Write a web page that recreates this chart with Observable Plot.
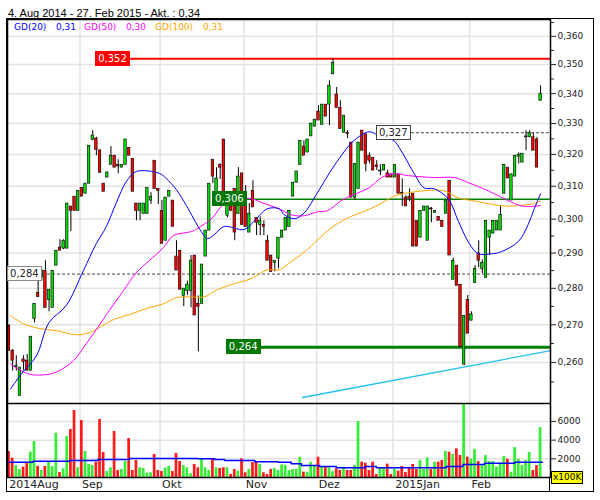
<!DOCTYPE html>
<html><head><meta charset="utf-8">
<script src="https://cdn.jsdelivr.net/npm/d3@7"></script>
<script src="https://cdn.jsdelivr.net/npm/@observablehq/plot@0.6"></script>
<style>
body{margin:0;background:#fff;}
#wrap{position:relative;width:600px;height:500px;font-family:"DejaVu Sans",sans-serif;overflow:hidden;}
#wrap > svg{position:absolute;left:0;}
.abs{position:absolute;white-space:nowrap;}
</style></head><body><div id="wrap"></div>
<script>
// ---------- data ----------
const titleText = "4. Aug 2014 - 27. Feb 2015 - Akt. : 0,34";
const monthLabels = ["2014Aug","Sep","Okt","Nov","Dez","2015Jan","Feb"];
const monthStartBar = [1,21,43,66,86,107,128];
const priceTicks = [0.26,0.27,0.28,0.29,0.30,0.31,0.32,0.33,0.34,0.35,0.36];
const priceMinorTicks = [0.255,0.265,0.275,0.285,0.295,0.305,0.315,0.325,0.335,0.345,0.355,0.365];
const volTicks = [2000,4000,6000];

const open = [.2697,.2631,.2588,.2515,.2608,.2605,.2579,.2716,.2787,.2829,
.2849,.2768,.2746,.2864,.2916,.2913,.2913,.3038,.3068,.3025,
.3095,.3077,.3108,.3247,.3251,.3213,.3108,.3127,.3167,.3196,
.3166,.3158,.3167,.3221,.3186,.3047,.3025,.3016,.3016,.3056,
.3180,.3092,.3025,.2936,.3068,.3056,.2890,.2907,.2779,.2793,
.2793,.2893,.2757,.2757,.2890,.2966,.3183,.3053,.3167,.3248,
.3010,.3053,.3092,.3016,.3140,.3083,.2960,.3086,.3004,.2983,
.2983,.2936,.2893,.2872,.2884,.2945,.2966,.2977,.3068,.3111,
.3167,.3225,.3206,.3258,.3290,.3340,.3296,.3363,.3363,.3466,
.3397,.3352,.3270,.3270,.3238,.3065,.3092,.3277,.3265,.3196,
.3189,.3165,.3146,.3149,.3140,.3137,.3127,.3137,.3080,.3065,
.3068,.3077,.2995,.2945,.3025,.2936,.3032,.3019,.3007,.2995,
.3016,.3117,.2824,.2864,.2810,.2595,.2768,.2711,.2815,.2899,
.2855,.2829,.2945,.2957,.2966,.2966,.3077,.3158,.3056,.3130,
.3193,.3174,.3255,.3255,.3255,.3248,.3376];
const high = [.2700,.2634,.2618,.2587,.2618,.2621,.2668,.2757,.2821,.2855,
.2878,.2796,.2849,.2907,.2939,.2939,.3047,.3038,.3068,.3086,
.3095,.3108,.3228,.3277,.3255,.3213,.3108,.3143,.3225,.3196,
.3183,.3167,.3248,.3221,.3186,.3047,.3047,.3047,.3095,.3080,
.3180,.3092,.3056,.3065,.3086,.3056,.2936,.2907,.2799,.2820,
.2893,.2893,.2779,.2867,.2966,.3108,.3183,.3158,.3170,.3248,
.3065,.3060,.3092,.3158,.3140,.3102,.3047,.3117,.3004,.3007,
.2995,.2951,.2893,.2878,.2945,.2966,.3004,.3025,.3111,.3146,
.3244,.3244,.3248,.3300,.3313,.3360,.3363,.3363,.3444,.3520,
.3421,.3376,.3326,.3277,.3238,.3170,.3238,.3277,.3265,.3205,
.3189,.3180,.3167,.3167,.3150,.3137,.3167,.3137,.3123,.3071,
.3092,.3077,.2995,.3025,.3038,.3038,.3035,.3025,.3007,.2995,
.3056,.3117,.2885,.2864,.2810,.2724,.2780,.2735,.2864,.2936,
.2880,.2995,.2966,.2995,.2995,.3041,.3167,.3158,.3137,.3196,
.3205,.3202,.3277,.3277,.3268,.3255,.3427];
const low = [.2631,.2578,.2578,.2515,.2579,.2579,.2579,.2705,.2774,.2821,
.2746,.2735,.2746,.2864,.2907,.2910,.2913,.2963,.3025,.3025,
.3068,.3077,.3108,.3244,.3196,.3140,.3083,.3127,.3167,.3158,
.3139,.3158,.3167,.3196,.3083,.2995,.2995,.3016,.3016,.3044,
.3092,.3044,.2927,.2936,.3068,.2977,.2850,.2796,.2749,.2780,
.2746,.2725,.2628,.2757,.2890,.2966,.3108,.3053,.3121,.3083,
.3004,.3025,.2936,.3016,.2983,.2977,.2960,.3035,.2951,.2951,
.2951,.2878,.2846,.2846,.2855,.2945,.2966,.2977,.3068,.3111,
.3167,.3196,.3206,.3258,.3290,.3310,.3296,.3323,.3293,.3466,
.3352,.3282,.3270,.3251,.3065,.3056,.3092,.3212,.3145,.3170,
.3149,.3149,.3133,.3149,.3127,.3127,.3127,.3077,.3038,.3038,
.3053,.2919,.2919,.2945,.3025,.2936,.2989,.3019,.2995,.2977,
.3016,.2893,.2824,.2807,.2641,.2592,.2676,.2711,.2815,.2858,
.2841,.2829,.2893,.2957,.2966,.2966,.3077,.3124,.3056,.3130,
.3170,.3174,.3212,.3255,.3212,.3158,.3376];
const close = [.2631,.2605,.2592,.2587,.2602,.2579,.2668,.2757,.2776,.2849,
.2746,.2796,.2849,.2907,.2907,.2936,.3047,.3025,.3025,.3086,
.3068,.3108,.3228,.3261,.3215,.3142,.3083,.3143,.3196,.3158,
.3162,.3167,.3248,.3196,.3083,.3025,.3047,.3047,.3095,.3068,
.3092,.3086,.2927,.3065,.3086,.2977,.2850,.2796,.2799,.2810,
.2878,.2725,.2749,.2867,.2966,.3108,.3130,.3124,.3158,.3083,
.3065,.3025,.2960,.3130,.2983,.2977,.3016,.3035,.2989,.2995,
.2977,.2878,.2846,.2878,.2945,.2966,.3004,.3025,.3111,.3146,
.3244,.3196,.3248,.3300,.3313,.3310,.3363,.3323,.3427,.3505,
.3352,.3282,.3326,.3266,.3065,.3170,.3238,.3212,.3170,.3180,
.3149,.3160,.3149,.3167,.3127,.3127,.3167,.3077,.3077,.3038,
.3062,.2919,.2919,.3025,.3038,.3038,.3029,.3025,.2995,.2977,
.3056,.2893,.2878,.2807,.2641,.2724,.2676,.2728,.2855,.2878,
.2872,.2995,.2966,.2995,.2995,.3013,.3167,.3124,.3137,.3196,
.3199,.3202,.3258,.3268,.3212,.3158,.3400];
const volume = [2780,2070,1280,850,1100,1530,2710,3850,1200,750,
1180,1710,1180,4740,535,930,4390,5140,7170,1040,
6100,2780,1390,1280,1640,6210,2675,640,1040,4920,
750,855,1710,4170,750,1820,1040,970,480,500,
2460,750,640,1000,1200,640,2570,1710,1280,1040,
400,1390,1040,2000,1040,750,1960,1040,970,1040,
1040,320,860,680,2000,500,860,1600,1600,1390,
500,320,860,970,750,1350,1280,750,860,860,
2170,570,570,1640,1180,2170,1100,1180,1040,640,
930,750,1100,750,750,1280,5990,1640,1530,750,
1640,320,1000,1000,1430,320,860,680,1180,530,
1040,1390,860,1820,860,2100,860,1640,1640,1820,
2780,2710,2460,3070,2350,7900,2170,1960,3000,1710,
1390,2350,1710,1710,1100,1530,2240,1960,570,3200,
1960,1280,1820,2675,750,1280,5340];

// moving averages (bar position, value)
const gd20Bar = [1.4,4.4,8.5,12,16.7,21.4,25,27.7,30.5,33.2,36,42.3,44.2,47,49.7,53.8,55.5,57.4,60.1,65.6,68.4,71.9,75.2,76.6,79.4,82.1,85.7,90.3,95.8,100,103.3,106.6,108.7,112.3,115,117.8,121.6,124.4,127.4,129.9,133.5,136.2,140.9,143.6,145.3,147];
const gd20Val = [.2532,.2571,.2617,.2706,.2752,.2849,.2928,.2977,.3050,.3114,.3146,.3140,.3124,.3089,.3041,.2963,.2942,.2954,.2978,.2969,.2995,.3031,.3031,.3013,.3001,.3019,.3080,.3164,.3245,.3273,.3255,.3245,.3212,.3139,.3095,.3092,.3062,.2994,.2928,.2898,.2898,.2904,.2934,.2984,.3032,.3077];
const gd50Bar = [1.4,6.6,12,14.8,18.7,22.2,26.3,28.5,32.4,35.9,39.5,43.4,46.1,51.1,52.7,56.6,60.1,63.7,67.5,71.1,75.2,78.5,82.1,85.7,88.4,92.3,95,100,103.3,106.9,110.7,117.8,123.3,127.2,132.6,137,139.8,142.6,147];
const gd50Val = [.2596,.2570,.2570,.2579,.2605,.2649,.2706,.2738,.2793,.2843,.2878,.2916,.2951,.2963,.2972,.3001,.3047,.3062,.3062,.3047,.3031,.3013,.3010,.3022,.3025,.3056,.3071,.3096,.3127,.3139,.3133,.3127,.3127,.3111,.3086,.3062,.3047,.3038,.3041];
const gd100Bar = [1.4,4.9,9.3,14,19.5,23.1,26.3,29.7,34,38.7,43.4,47,51.1,54.6,58.2,62.9,67.5,71.9,75.2,78.5,82.9,87.6,91.2,95,100,103.3,106.9,110.7,115,120.5,124.4,128.8,133.5,137,141.8,144.5,147];
const gd100Val = [.2725,.2703,.2690,.2684,.2673,.2679,.2695,.2714,.2727,.2744,.2757,.2774,.2776,.2776,.2796,.2813,.2827,.2852,.2852,.2875,.2910,.2957,.2987,.3008,.3030,.3048,.3070,.3080,.3086,.3086,.3064,.3055,.3045,.3039,.3042,.3045,.3055];
const legendNames = ["GD(20)","GD(50)","GD(100)"];
const legendValues = ["0,31","0,30","0,31"];

const volAvgBar = [1,7.6,17.6,25.4,34.1,52.9,57.5,60.2,68.5,74.9,78.5,81.3,86.3,90.9,98.7,101.9,121.1,125.7,131.6,139.9,147.5];
const volAvgVal = [1640,1745,1820,1925,2030,2000,1925,1820,1675,1640,1460,1280,1180,1040,1180,1040,1180,1390,1530,1640,1640];

const levelValues = [0.352,0.306,0.264,0.284,0.327];
const levelFromBar = [24.8,56.9,60.7,0.6,101.9];
const levelText = ["0,352","0,306","0,264","0,284","0,327"];
const trendBar = [81.6,149.72];
const trendVal = [0.2511,0.2631];

// ---------- styles ----------
const C_UP = "#00dd00", C_DN = "#ff0000";
const C_VUP = "#33ee33", C_VDN = "#ff1a1a";
const MA_COLORS = ["#0000ff","#ff00ff","#ffa500"];
const GRID = "#e3e3e3";
const X_DOMAIN = [0.588,149.72];
const levelStyle = [
  {stroke:"#ff0000", w:2, dash:null, bg:"#ff0000", fg:"#fff", bd:"#ff0000"},
  {stroke:"#008000", w:1.3, dash:null, bg:"#007800", fg:"#fff", bd:"#007800"},
  {stroke:"#008000", w:3, dash:null, bg:"#007800", fg:"#fff", bd:"#007800"},
  {stroke:"#444", w:1, dash:"3,2", bg:"#fff", fg:"#222", bd:"#888"},
  {stroke:"#444", w:1, dash:"3,2", bg:"#fff", fg:"#222", bd:"#444"}
];

const bars = open.map((o,k)=>({i:k+1, open:o, high:high[k], low:low[k], close:close[k], volume:volume[k], up: close[k]>=o}));
const pts = (b,v)=>b.map((x,k)=>({i:x, v:v[k]}));
const monthGrid = monthStartBar.slice(1).map(b=>b-0.5);
const labelMap = new Map(monthStartBar.map((b,k)=>[b-0.5, monthLabels[k]]));

const wrap = document.getElementById("wrap");

const main = Plot.plot({
  width:600, height:403,
  marginTop:19, marginBottom:0, marginLeft:7, marginRight:50,
  style:{fontFamily:"DejaVu Sans", fontSize:"9px", background:"transparent", color:"#222"},
  x:{domain:X_DOMAIN, axis:null, label:null},
  y:{type:"log", domain:[0.2496,0.3661], axis:null, label:null},
  color:{type:"identity"},
  marks:[
    Plot.ruleY(priceTicks, {stroke:GRID, strokeWidth:1.5}),
    Plot.ruleX(monthGrid, {stroke:GRID, strokeWidth:1.5}),
    ...levelValues.map((v,k)=>Plot.ruleY([v], {x1:levelFromBar[k], x2:X_DOMAIN[1], stroke:levelStyle[k].stroke, strokeWidth:levelStyle[k].w, strokeDasharray:levelStyle[k].dash})),
    Plot.line(pts(trendBar,trendVal), {x:"i", y:"v", stroke:"#20c0f0", strokeWidth:1.3}),
    Plot.ruleX(bars, {x:"i", y1:"low", y2:"high", stroke:"#000", strokeWidth:1}),
    Plot.rect(bars, {x1:d=>d.i-0.34, x2:d=>d.i+0.34, y1:"open", y2:"close", fill:d=>d.up?C_UP:C_DN, stroke:"#000", strokeWidth:0.6}),
    Plot.line(pts(gd100Bar,gd100Val), {x:"i", y:"v", stroke:MA_COLORS[2], strokeWidth:1, curve:"catmull-rom"}),
    Plot.line(pts(gd50Bar,gd50Val), {x:"i", y:"v", stroke:MA_COLORS[1], strokeWidth:1, curve:"catmull-rom"}),
    Plot.line(pts(gd20Bar,gd20Val), {x:"i", y:"v", stroke:MA_COLORS[0], strokeWidth:1, curve:"catmull-rom"}),
    Plot.axisY({anchor:"right", label:null, ticks:priceMinorTicks, tickSize:3, tickFormat:()=>"" }),
    Plot.axisY({anchor:"right", label:null, ticks:priceTicks, tickSize:5, tickPadding:2, fontSize:9, tickFormat:d=>d.toFixed(3).replace(".",",")}),
    Plot.frame({stroke:"#000", strokeWidth:1.5})
  ]
});
main.style.top = "0px";
wrap.appendChild(main);

const vol = Plot.plot({
  width:600, height:89,
  marginTop:0, marginBottom:15, marginLeft:7, marginRight:50,
  style:{fontFamily:"DejaVu Sans", fontSize:"9px", background:"transparent", color:"#222"},
  x:{domain:X_DOMAIN, axis:null, label:null},
  y:{domain:[0,7920], axis:null, label:null},
  color:{type:"identity"},
  marks:[
    Plot.ruleY(volTicks, {stroke:GRID, strokeWidth:1.5}),
    Plot.ruleX(monthGrid, {stroke:GRID, strokeWidth:1.5}),
    Plot.rect(bars, {x1:d=>d.i-0.37, x2:d=>d.i+0.37, y1:0, y2:"volume", fill:d=>d.up?C_VUP:C_VDN}),
    Plot.line(pts(volAvgBar,volAvgVal), {x:"i", y:"v", stroke:"#0000ff", strokeWidth:1.5, curve:"step-after"}),
    Plot.axisY({anchor:"right", label:null, ticks:volTicks, tickSize:5, tickPadding:2, fontSize:9, tickFormat:d=>String(d)}),
    Plot.axisX({anchor:"bottom", label:null, ticks:monthStartBar.map(b=>b-0.5), tickSize:0, tickPadding:3, textAnchor:"start", dx:2, fontSize:11, tickFormat:d=>labelMap.get(d)}),
    Plot.frame({stroke:"#000", strokeWidth:1.5})
  ]
});
vol.style.top = "403px";
wrap.appendChild(vol);

function div(css, text){ const d=document.createElement("div"); d.className="abs"; d.style.cssText=css; if(text!=null) d.textContent=text; wrap.appendChild(d); return d; }

// outer frame
div("left:6.25px;top:18.25px;width:587.5px;height:474px;border:1.5px solid #000;box-sizing:border-box;");
div("left:549.25px;top:477px;width:0;height:15px;border-left:1.5px solid #000;");
// title
div("left:8px;top:8px;font:11px/11px 'Liberation Sans',Arial,sans-serif;color:#000;", titleText);
// legend
const legX = [[14,56],[84,126],[155,203]];
legendNames.forEach((n,k)=>{
  div(`left:${legX[k][0]}px;top:23px;font:9px/9px 'DejaVu Sans';color:${MA_COLORS[k]};`, n);
  div(`left:${legX[k][1]}px;top:23px;font:9px/9px 'DejaVu Sans';color:${MA_COLORS[k]};`, legendValues[k]);
});
// x100K box
div("left:551px;top:471px;height:11px;padding:0 1px;background:#ffff00;border:1px solid #000;font:9px/11px 'DejaVu Sans';color:#000;", "x100K");

// level label boxes placed through the plot's own scales
const sx = Plot.scale({x: main.scale("x")});
const sy = Plot.scale({y: main.scale("y")});
levelValues.forEach((v,k)=>{
  const st = levelStyle[k];
  const left = sx.apply(levelFromBar[k]);
  const top = sy.apply(v) - 7.5;
  div(`left:${left}px;top:${top}px;height:13px;padding:0 2px;background:${st.bg};border:1px solid ${st.bd};font:10px/13px 'DejaVu Sans';color:${st.fg};`, levelText[k]);
});
</script></body></html>
